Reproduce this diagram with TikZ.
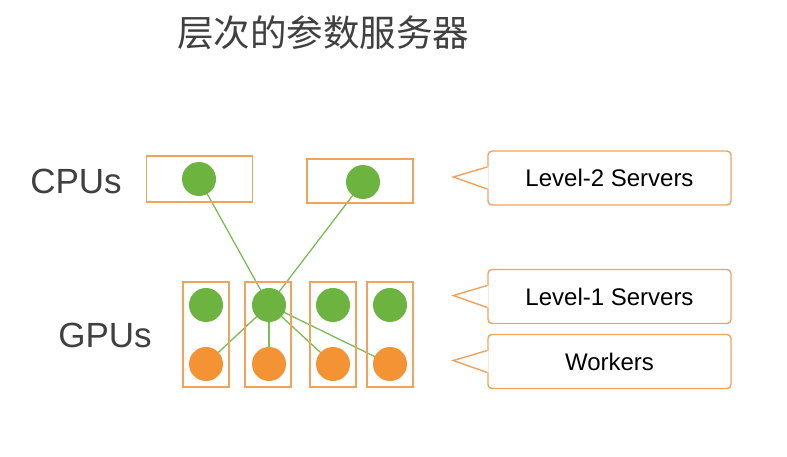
\documentclass[tikz,border=0pt]{standalone}
\usepackage{fontspec}
\setmainfont{Liberation Sans}
\newfontfamily\cjk{Noto Sans CJK SC}
\definecolor{boxor}{HTML}{F0A35E}
\definecolor{grn}{HTML}{6CB33F}
\definecolor{org}{HTML}{F39334}
\definecolor{lgrn}{HTML}{7DBB55}
\definecolor{txtgray}{HTML}{404040}
\pgfdeclarelayer{bg}
\pgfsetlayers{bg,main}
\tikzset{
  hostbox/.style={draw=boxor, line width=1.8pt, fill=none, inner sep=0pt},
  srv/.style={circle, fill=grn, minimum size=34pt, inner sep=0pt},
  wrk/.style={circle, fill=org, minimum size=34pt, inner sep=0pt},
  link/.style={draw=lgrn, line width=1.3pt},
  callbox/.style={draw=boxor, line width=1.4pt, rounded corners=4pt, fill=white, minimum width=243pt, minimum height=54pt, inner sep=0pt, font=\fontsize{24}{28}\selectfont, text=black},
  callptr/.style={draw=boxor, line width=1.4pt, line join=miter},
  biglabel/.style={font=\fontsize{35}{40}\selectfont, text=txtgray, inner sep=0pt}
}
\begin{document}
\begin{tikzpicture}[x=1pt,y=-1pt]
\begin{pgfonlayer}{bg}
\fill[white] (0,0) rectangle (787,457);
\end{pgfonlayer}
\useasboundingbox (0,0) rectangle (787,457);
% title
\node[font=\cjk\fontsize{36.5}{40}\selectfont, text=txtgray, inner sep=0pt] (title) at (323,33) {层次的参数服务器};
% left labels
\node[biglabel] (cpus) at (76,181) {CPUs};
\node[biglabel] (gpus) at (105,335) {GPUs};
% CPU boxes
\node[hostbox, minimum width=106pt, minimum height=46pt] (cpu1) at (199.5,179) {};
\node[hostbox, minimum width=106pt, minimum height=44pt] (cpu2) at (360,181) {};
% GPU boxes
\foreach \i/\x in {1/206,2/268,3/333,4/390}{
  \node[hostbox, minimum width=46pt, minimum height=105pt] (gpu\i) at (\x,334.5) {};
}
% circles
\node[srv] (s2a) at (199,179) {};
\node[srv] (s2b) at (363,182) {};
\node[srv] (s1a) at (206,305) {};
\node[srv] (s1b) at (269,305) {};
\node[srv] (s1c) at (333,305) {};
\node[srv] (s1d) at (390,305) {};
\node[wrk] (w1) at (206,364) {};
\node[wrk] (w2) at (269,364) {};
\node[wrk] (w3) at (333,364) {};
\node[wrk] (w4) at (390,364) {};
% links (behind the circles)
\begin{pgfonlayer}{bg}
\path[link] (s2a.center) -- (s1b.center);
\path[link] (s2b.center) -- (s1b.center);
\foreach \w in {w1,w2,w3,w4}{ \path[link] (s1b.center) -- (\w.center); }
\end{pgfonlayer}
% callouts
\node[callbox] (c2) at (609.5,178) {Level-2 Servers};
\node[callbox] (c1) at (609.5,296.5) {Level-1 Servers};
\node[callbox] (c0) at (609.5,361.5) {Workers};
\foreach \c in {c2,c1,c0}{
  \coordinate (\c tip) at ([xshift=-34pt,yshift=1pt]\c.west);
  \fill[white] ([xshift=1.2pt,yshift=-11pt]\c.west) -- (\c tip) -- ([xshift=1.2pt,yshift=11pt]\c.west) -- cycle;
  \path[callptr] ([yshift=-11pt]\c.west) -- (\c tip) -- ([yshift=11pt]\c.west);
}
\end{tikzpicture}
\end{document}
